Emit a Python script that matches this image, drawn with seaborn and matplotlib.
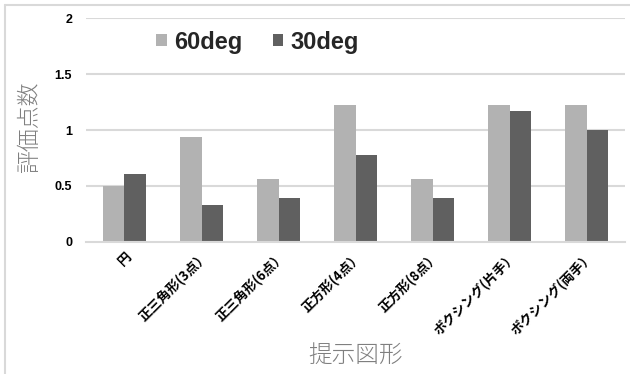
import matplotlib
matplotlib.use("Agg")
import matplotlib.pyplot as plt
from matplotlib.lines import Line2D
import seaborn as sns
import pandas as pd

categories = ["円", "正三角形(3点）", "正三角形(6点）", "正方形(4点）",
              "正方形(8点）", "ボクシング(片手）", "ボクシング(両手）"]
deg60 = [0.50, 0.94, 0.56, 1.22, 0.56, 1.22, 1.22]
deg30 = [0.61, 0.33, 0.39, 0.78, 0.39, 1.17, 1.00]
series = ["60deg", "30deg"]
yticks = [0, 0.5, 1, 1.5, 2]
ytick_labels = ["0", "0.5", "1", "1.5", "2"]

df = pd.DataFrame({
    "図形": categories * 2,
    "角度": [series[0]] * len(categories) + [series[1]] * len(categories),
    "評価点数": deg60 + deg30,
})

sns.set_theme(style="white")
plt.rcParams["font.family"] = ["Noto Sans CJK JP", "DejaVu Sans"]

W, H = 630, 374
fig = plt.figure(figsize=(W / 100, H / 100), dpi=100)
ax = fig.add_axes([86 / W, 1 - 242 / H, (625 - 86) / W, (242 - 18) / H])

grid_c = "#D9D9D9"
sns.barplot(data=df, x="図形", y="評価点数", hue="角度", order=categories,
            hue_order=series, palette=["#B2B2B2", "#606060"],
            width=0.571, gap=0, saturation=1, linewidth=0, edgecolor="none",
            ax=ax, zorder=3)

ax.set_ylim(0, 2)
ax.set_xlim(-0.5, len(categories) - 0.5)
ax.set_yticks(yticks)
ax.set_yticklabels(ytick_labels, fontsize=9, fontweight="bold",
                   family=["Liberation Sans", "DejaVu Sans"])
for y in yticks[1:]:
    ax.axhline(y, color=grid_c, lw=1.5, zorder=1)

for s in ["top", "right", "left"]:
    ax.spines[s].set_visible(False)
ax.spines["bottom"].set_color(grid_c)
ax.spines["bottom"].set_linewidth(1.5)
ax.spines["bottom"].set_zorder(4)

ax.tick_params(axis="y", length=0, pad=10, colors="black")
ax.set_xticks(range(len(categories)))
ax.set_xticklabels(categories, rotation=45, ha="right", rotation_mode="anchor",
                   fontsize=9.5, fontweight="bold", color="black")
ax.tick_params(axis="x", which="major", length=0, pad=5)
ax.set_xticks([i - 0.5 for i in range(len(categories) + 1)], minor=True)
ax.tick_params(axis="x", which="minor", length=4, width=1, color=grid_c,
               direction="out")

ax.set_ylabel("評価点数", fontsize=16.5, color="#7F7F7F", fontweight="light")
ax.yaxis.set_label_coords((30 - 86) / 539, (242 - 127) / 224)
ax.set_xlabel("提示図形", fontsize=17, color="#7F7F7F", fontweight="light")
ax.xaxis.set_label_coords((356 - 86) / 539, (242 - 355) / 224)
ax.xaxis.label.set_va("center")
ax.yaxis.label.set_va("center")

handles, labels = ax.get_legend_handles_labels()
ax.legend(handles, labels, loc="center left",
          bbox_to_anchor=((156 - 86) / 539, (242 - 42) / 224),
          borderaxespad=0, borderpad=0,
          ncol=2, frameon=False, handlelength=0.45, handleheight=0.45,
          handletextpad=0.3, columnspacing=1.3,
          prop={"family": ["Liberation Sans", "DejaVu Sans"],
                "weight": "bold", "size": 17})

# outer chart frame
fig.add_artist(Line2D([5 / W, 5 / W], [0, 1 - 5 / H], color=grid_c, lw=1.5))
fig.add_artist(Line2D([5 / W, 1], [1 - 5 / H, 1 - 5 / H], color=grid_c, lw=1.5))

fig.savefig("out.png", dpi=100, facecolor="white")
